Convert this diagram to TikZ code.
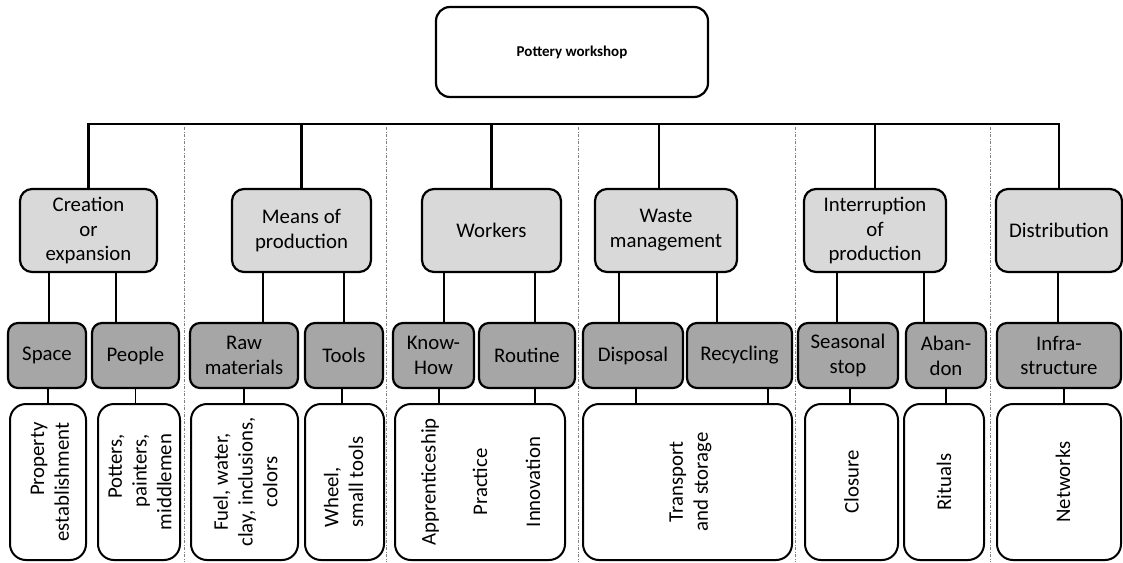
\documentclass[tikz,border=0pt]{standalone}
\usepackage{fontspec}
\setmainfont{Carlito}
\usetikzlibrary{positioning, calc}

\definecolor{branchgray}{HTML}{D9D9D9}
\definecolor{leafgray}{HTML}{A6A6A6}

\begin{document}
\begin{tikzpicture}[
    x=1pt, y=-1pt,
    every node/.style={font=\fontsize{20.8}{24.8}\selectfont},
    root/.style={draw, line width=2.2pt, rounded corners=14pt, minimum width=272, minimum height=90, fill=white, font=\fontsize{15}{18}\selectfont\bfseries},
    branch/.style={draw, line width=2.2pt, rounded corners=12pt, minimum height=83, inner sep=2pt, align=center, fill=branchgray},
    leaf/.style={draw, line width=2.2pt, rounded corners=10pt, minimum height=65, inner sep=2pt, align=center, fill=leafgray},
    detail/.style={draw, line width=2pt, rounded corners=16pt, minimum height=156, fill=white},
    sideways/.style={rotate=90, inner sep=0pt},
    trunk/.style={line width=2.7pt},
    twig/.style={line width=1.6pt},
    divider/.style={gray, line width=0.6pt, dash pattern=on 3pt off 1.5pt on 1pt off 1.5pt}
]
    \useasboundingbox (0,0) rectangle (1123,562);

    % --- Column dividers ---
    \foreach \xd in {184, 386, 578, 795, 990}
        \draw[divider] (\xd,127) -- (\xd,562);

    % --- Root ---
    \node[root] (workshop) at (572, 52) {Pottery workshop};
    \coordinate (bar) at (572, 124);

    % --- First level ---
    \node[branch, minimum width=137] (creation) at (88.5, 230.5) {Creation\\or\\expansion};
    \node[branch, minimum width=139] (means) at (301.5, 230.5) {Means of\\production};
    \node[branch, minimum width=139] (workers) at (491.5, 230.5) {Workers};
    \node[branch, minimum width=142] (waste) at (666, 230.5) {Waste\\management};
    \node[branch, minimum width=142] (interruption) at (875, 230.5) {Interruption\\of\\production};
    \node[branch, minimum width=126] (distribution) at (1059, 230.5) {Distribution};

    % --- Second level ---
    \node[leaf, minimum width=78] (space) at (47, 355.5) {Space};
    \node[leaf, minimum width=87] (people) at (135.5, 355.5) {People};
    \node[leaf, minimum width=108] (raw) at (244, 355.5) {Raw\\materials};
    \node[leaf, minimum width=78] (tools) at (344, 355.5) {Tools};
    \node[leaf, minimum width=81] (knowhow) at (433.5, 355.5) {Know-\\How};
    \node[leaf, minimum width=96] (routine) at (527, 355.5) {Routine};
    \node[leaf, minimum width=100] (disposal) at (633, 355.5) {Disposal};
    \node[leaf, minimum width=105] (recycling) at (739.5, 355.5) {Recycling};
    \node[leaf, minimum width=100] (seasonal) at (848, 355.5) {Seasonal\\stop};
    \node[leaf, minimum width=80] (abandon) at (946, 355.5) {Aban-\\don};
    \node[leaf, minimum width=124] (infra) at (1059, 355.5) {Infra-\\structure};

    % --- Third level ---
    \node[detail, minimum width=76] (property) at (48, 482) {};
    \node[detail, minimum width=82] (potters) at (139, 482) {};
    \node[detail, minimum width=107] (fuel) at (244.5, 482) {};
    \node[detail, minimum width=79] (wheel) at (344.5, 482) {};
    \node[detail, minimum width=170] (skills) at (480, 482) {};
    \node[detail, minimum width=209] (transport) at (687.5, 482) {};
    \node[detail, minimum width=93] (closure) at (851.5, 482) {};
    \node[detail, minimum width=80] (rituals) at (944, 482) {};
    \node[detail, minimum width=124] (networks) at (1059, 482) {};

    % --- Third level texts ---
    \node[sideways, align=right] (propertytext) at ([xshift=2pt]property.center) {Property\\establishment};
    \node[sideways, align=right] (potterstext) at ([xshift=1pt]potters.center) {Potters,\\painters,\\middlemen};
    \node[sideways, align=center] (fueltext) at ([xshift=1pt]fuel.center) {Fuel, water,\\clay, inclusions,\\colors};
    \node[sideways, align=left] (wheeltext) at ([xshift=-1pt]wheel.center) {Wheel,\\small tools};
    \node[sideways] (apprentice) at ([xshift=-50pt]skills.center) {Apprenticeship};
    \node[sideways] (practice) at (skills.center) {Practice};
    \node[sideways] (innovation) at ([xshift=53pt]skills.center) {Innovation};
    \node[sideways, align=center] (transporttext) at ([xshift=3pt]transport.center) {Transport\\and storage};
    \node[sideways] (closuretext) at (closure.center) {Closure};
    \node[sideways] (ritualstext) at (rituals.center) {Rituals};
    \node[sideways] (networkstext) at ([xshift=4pt]networks.center) {Networks};

    % --- Main bar ---
    \draw[trunk] (creation.north) -- (creation.north |- bar) -- (distribution.north |- bar) -- (distribution.north);
    \foreach \b in {means, workers, interruption}
        \draw[trunk] (\b.north) -- (\b.north |- bar);
    \coordinate (waste-up) at ([xshift=-7pt]waste.north);
    \draw[trunk] (waste-up) -- (waste-up |- bar);

    % --- First to second level ---
    \foreach \parent/\child/\dx in {creation/space/2, creation/people/-19.5, means/raw/19, means/tools/0,
        workers/knowhow/10.5, workers/routine/8, waste/disposal/-14, waste/recycling/-22.5,
        interruption/seasonal/-11, interruption/abandon/-22, distribution/infra/-1}
    {
        \coordinate (\child-up) at ([xshift=\dx pt]\child.north);
        \draw[trunk] (\child-up) -- (\child-up |- \parent.south);
    }

    % --- Second to third level ---
    \foreach \child/\item/\dx in {space/property/1, people/potters/0, raw/fuel/0, tools/wheel/-2,
        knowhow/skills/5.5, routine/skills/8, disposal/transport/3, recycling/transport/28.5,
        seasonal/closure/2, abandon/rituals/0, infra/networks/5}
    {
        \coordinate (\child-down) at ([xshift=\dx pt]\child.south);
        \draw[twig] (\child-down) -- (\child-down |- \item.north);
    }

\end{tikzpicture}
\end{document}
